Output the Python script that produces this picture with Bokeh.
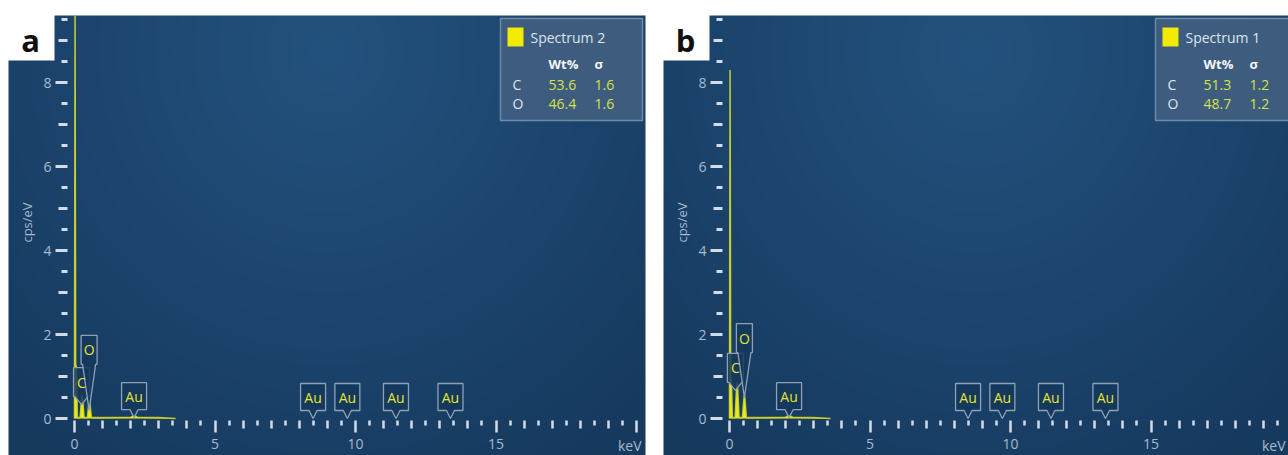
import numpy as np
from bokeh.plotting import figure
from bokeh.models import Range1d, LinearAxis, FixedTicker
from bokeh.layouts import row
from bokeh.core.properties import value
from bokeh.embed import file_html
from bokeh.resources import INLINE

# ---------------- data ----------------
panel_tags = ["a", "b"]
spectrum_names = ["Spectrum 2", "Spectrum 1"]
quant_elements = ["C", "O"]
wt_a = ["53.6", "46.4"]
sigma_a = ["1.6", "1.6"]
wt_b = ["51.3", "48.7"]
sigma_b = ["1.2", "1.2"]

x_label_ticks = [0, 5, 10, 15, 20]
x_tick_overrides = {20: ""}
x_unit_label = "keV"
x_int_ticks = [1, 2, 3, 4, 6, 7, 8, 9, 11, 12, 13, 14, 16, 17, 18, 19]
x_half_ticks = [0.5, 1.5, 2.5, 3.5, 4.5, 5.5, 6.5, 7.5, 8.5, 9.5, 10.5, 11.5,
                12.5, 13.5, 14.5, 15.5, 16.5, 17.5, 18.5, 19.5]
y_label_ticks = [0, 2, 4, 6, 8]
y_odd_ticks = [1, 3, 5, 7, 9]
y_half_ticks = [0.5, 1.5, 2.5, 3.5, 4.5, 5.5, 6.5, 7.5, 8.5, 9.5]

spec_kev = [0.00, 0.02, 0.04, 0.07, 0.10, 0.20, 0.25, 0.27, 0.29, 0.34, 0.46,
            0.51, 0.53, 0.55, 0.60, 1.00, 2.00, 2.12, 2.24, 3.00, 3.60]
spec_a_cps = [0.00, 9.59, 1.30, 1.20, 0.02, 0.02, 0.45, 0.55, 0.45, 0.02, 0.02,
              0.35, 0.42, 0.35, 0.02, 0.02, 0.03, 0.07, 0.03, 0.02, 0.00]
spec_b_cps = [0.00, 8.30, 1.00, 0.90, 0.02, 0.02, 0.70, 0.85, 0.70, 0.02, 0.02,
              0.45, 0.55, 0.45, 0.02, 0.02, 0.03, 0.08, 0.03, 0.02, 0.00]

marker_el = ["C", "O", "Au", "Au", "Au", "Au", "Au"]
marker_kev_a = [0.25, 0.52, 2.12, 8.49, 9.71, 11.44, 13.38]
marker_kev_b = [0.21, 0.53, 2.12, 8.49, 9.71, 11.44, 13.38]
# label placement (layout)
marker_floor_a = [0.52, 1.29, 0.21, 0.19, 0.19, 0.19, 0.19]
marker_tip_a = [0.33, 0.19, 0.02, 0.0, 0.0, 0.0, 0.0]
marker_floor_b = [0.86, 1.57, 0.21, 0.19, 0.19, 0.19, 0.19]
marker_tip_b = [0.67, 0.50, 0.02, 0.0, 0.0, 0.0, 0.0]

# ---------------- layout constants ----------------
H = 455
PX_X = 28.1
PX_Y = 42.0
X0 = 74
Y0 = 418
FONT = "Open Sans"
TICK_TXT = "#a7bace"
TICK_LINE = "#d3dce6"
YELLOW = "#f0ec10"


def sx(px):
    return (px - X0) / PX_X


def sy(py):
    return (Y0 - py) / PX_Y


def background(W):
    gh, gw = 220, 320
    yy, xx = np.mgrid[0:gh, 0:gw]
    u = xx / (gw - 1)
    v = yy / (gh - 1)
    r = np.sqrt(((u - 0.5) / 0.75) ** 2 + ((v - 0.92) / 1.15) ** 2)
    r = np.clip(r, 0, 1)
    light = np.array([35, 82, 126])
    dark = np.array([22, 57, 94])
    img = np.empty((gh, gw), dtype=np.uint32)
    view = img.view(dtype=np.uint8).reshape((gh, gw, 4))
    for k in range(3):
        view[:, :, k] = (light[k] * (1 - r) + dark[k] * r).astype(np.uint8)
    view[:, :, 3] = 255
    return img


def make_panel(W, tag, name, wts, sigmas, cps, mk_kev, mk_floor, mk_tip):
    p = figure(width=W, height=H, x_range=Range1d(sx(0), sx(W)),
               y_range=Range1d(sy(H), sy(0)), x_axis_location=None,
               y_axis_location=None, toolbar_location=None, output_backend="svg",
               min_border=0, outline_line_color=None,
               background_fill_color="white", border_fill_color="white")
    p.grid.visible = False

    right = min(645, W)
    p.image_rgba(image=[background(W)], x=sx(8), y=sy(H), dw=sx(right) - sx(8),
                 dh=sy(15) - sy(H))

    # panel tag box
    p.quad(left=sx(5), right=sx(54), bottom=sy(60), top=sy(12),
           fill_color="white", line_color=None)
    p.text(x=[sx(30)], y=[sy(39)], text=[tag], text_font=value(FONT),
           text_font_style="bold", text_font_size="31px", text_color="#111111",
           text_align="center", text_baseline="middle")

    # axes
    ax5 = LinearAxis(ticker=FixedTicker(ticks=x_label_ticks, minor_ticks=[]),
                     fixed_location=sy(420))
    ax5.major_label_overrides = x_tick_overrides
    ax5.major_tick_in = 0
    ax5.major_tick_out = 12
    ax5.major_label_standoff = 6
    ax5.axis_line_color = None
    ax5.major_tick_line_color = TICK_LINE
    ax5.major_tick_line_width = 2.5
    ax5.major_label_text_font = FONT
    ax5.major_label_text_font_size = "14px"
    ax5.major_label_text_color = TICK_TXT
    p.add_layout(ax5, "below")

    axi = LinearAxis(ticker=FixedTicker(ticks=x_int_ticks, minor_ticks=x_half_ticks),
                     fixed_location=sy(420))
    axi.major_tick_in = 0
    axi.major_tick_out = 8
    axi.minor_tick_in = 0
    axi.minor_tick_out = 5
    axi.axis_line_color = None
    axi.major_tick_line_color = TICK_LINE
    axi.minor_tick_line_color = TICK_LINE
    axi.major_tick_line_width = 2.5
    axi.minor_tick_line_width = 2.5
    axi.major_label_text_color = None
    p.add_layout(axi, "below")

    kev_right = min(641, W - 3)
    p.text(x=[sx(kev_right)], y=[sy(445)], text=[x_unit_label], text_font=value(FONT),
           text_font_size="14px", text_color=TICK_TXT, text_align="right",
           text_baseline="middle")

    ay = LinearAxis(ticker=FixedTicker(ticks=y_label_ticks, minor_ticks=[]),
                    fixed_location=sx(67))
    ay.major_tick_in = 0
    ay.major_tick_out = 12
    ay.major_label_standoff = 4
    ay.axis_line_color = None
    ay.major_tick_line_color = TICK_LINE
    ay.major_tick_line_width = 3
    ay.major_label_text_font = FONT
    ay.major_label_text_font_size = "14px"
    ay.major_label_text_color = TICK_TXT
    p.add_layout(ay, "left")

    ay2 = LinearAxis(ticker=FixedTicker(ticks=y_odd_ticks, minor_ticks=y_half_ticks),
                     fixed_location=sx(67))
    ay2.major_tick_in = 0
    ay2.major_tick_out = 9
    ay2.minor_tick_in = 0
    ay2.minor_tick_out = 6
    ay2.axis_line_color = None
    ay2.major_tick_line_color = TICK_LINE
    ay2.minor_tick_line_color = TICK_LINE
    ay2.major_tick_line_width = 3
    ay2.minor_tick_line_width = 3
    ay2.major_label_text_color = None
    p.add_layout(ay2, "left")

    p.text(x=[sx(26)], y=[sy(222)], text=["cps/eV"], angle=np.pi / 2,
           text_font=value(FONT), text_font_size="13px", text_color=TICK_TXT,
           text_align="center", text_baseline="middle")

    # spectrum
    p.varea(x=spec_kev, y1=[0] * len(spec_kev), y2=cps, fill_color=YELLOW)
    p.line(x=spec_kev, y=cps, line_color="#d8dc2a", line_width=1.6, line_alpha=0.85)

    # element markers
    xs, ys, tx, ty = [], [], [], []
    for el, cx, fl, tp in zip(marker_el, mk_kev, mk_floor, mk_tip):
        wpx = 25 if len(el) > 1 else 16
        hpx = 27 if len(el) > 1 else 29
        hw = wpx / 2 / PX_X
        top = fl + hpx / PX_Y
        nb = (4 / PX_X) if len(el) > 1 else hw - 1.5 / PX_X
        xs.append([cx - hw, cx + hw, cx + hw, cx + nb, cx, cx - nb, cx - hw])
        ys.append([top, top, fl, fl, tp, fl, fl])
        tx.append(cx)
        ty.append((fl + top) / 2)
    p.patches(xs=xs, ys=ys, fill_color="#15375c", fill_alpha=0.85,
              line_color="#8da2b8", line_width=1.3)
    p.text(x=tx, y=ty, text=marker_el, text_font=value(FONT), text_font_size="14px",
           text_color="#e4e432", text_align="center", text_baseline="middle")

    # quant legend box
    p.quad(left=sx(500), right=sx(642), bottom=sy(120), top=sy(18),
           fill_color="#3f5e80", fill_alpha=0.95, line_color="#6e8aa7", line_width=1.5)
    p.quad(left=sx(507), right=sx(523), bottom=sy(46), top=sy(27),
           fill_color="#f2ea00", line_color=None)
    p.text(x=[sx(530)], y=[sy(37)], text=[name], text_font=value(FONT),
           text_font_size="14px", text_color="#dde5ee", text_baseline="middle")
    p.text(x=[sx(548), sx(594)], y=[sy(63), sy(63)], text=["Wt%", "σ"],
           text_font=value(FONT), text_font_style="bold", text_font_size="13px",
           text_color="#f4f6f8", text_baseline="middle")
    rows_y = [sy(84), sy(103)]
    p.text(x=[sx(512)] * 2, y=rows_y, text=quant_elements, text_font=value(FONT),
           text_font_size="14px", text_color="#dde5ee", text_baseline="middle")
    p.text(x=[sx(548)] * 2, y=rows_y, text=wts, text_font=value(FONT),
           text_font_size="14px", text_color="#d6e24a", text_baseline="middle")
    p.text(x=[sx(594)] * 2, y=rows_y, text=sigmas, text_font=value(FONT),
           text_font_size="14px", text_color="#d6e24a", text_baseline="middle")
    return p


pa = make_panel(655, panel_tags[0], spectrum_names[0], wt_a, sigma_a, spec_a_cps,
                marker_kev_a, marker_floor_a, marker_tip_a)
pb = make_panel(633, panel_tags[1], spectrum_names[1], wt_b, sigma_b, spec_b_cps,
                marker_kev_b, marker_floor_b, marker_tip_b)

layout = row(pa, pb, spacing=0)
open("out.html", "w").write(file_html(layout, INLINE))
